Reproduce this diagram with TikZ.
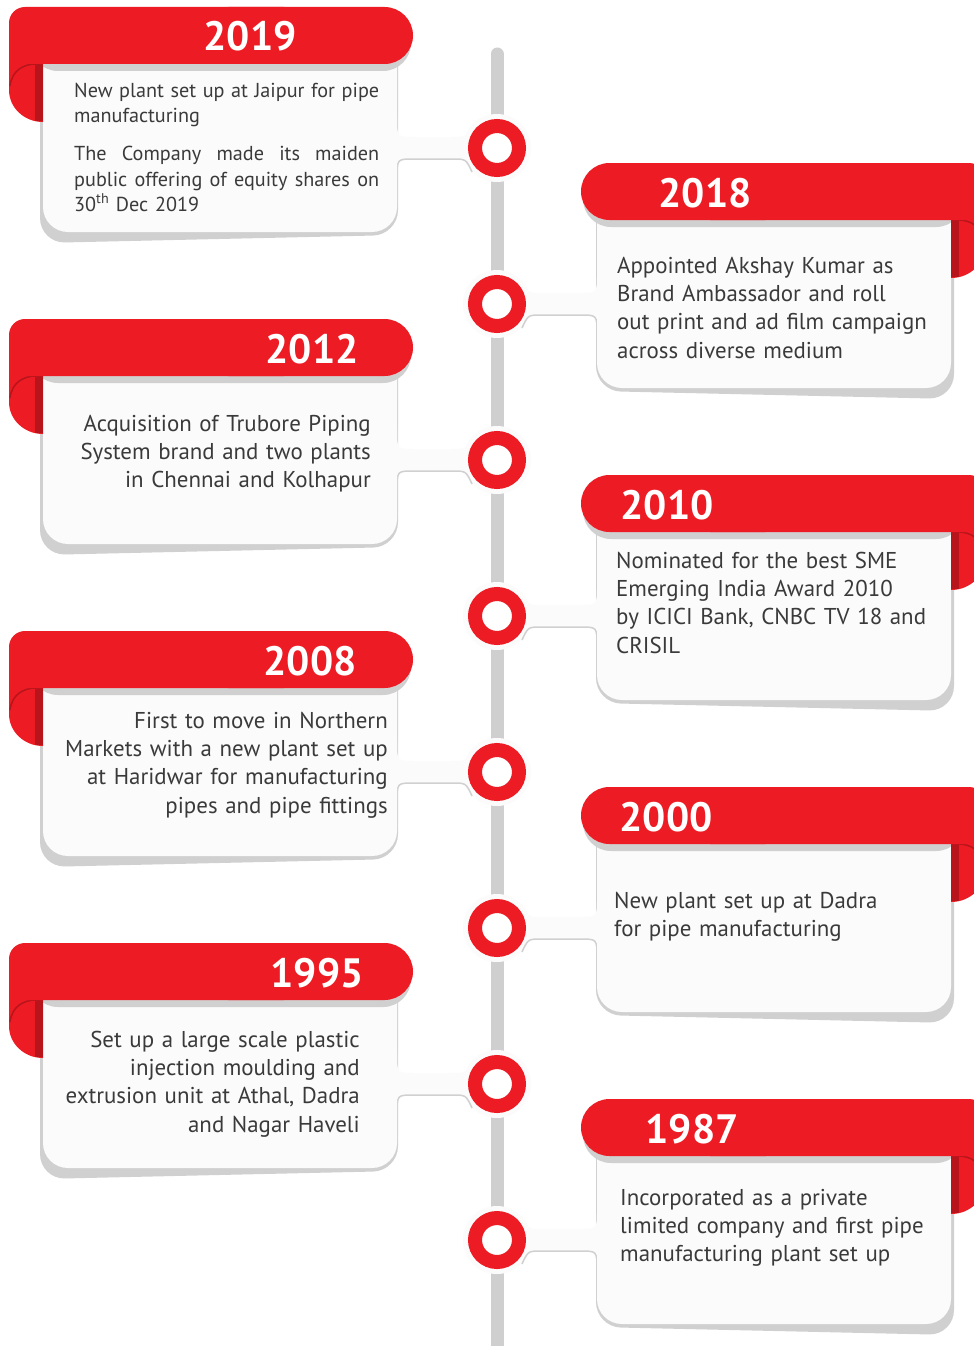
\documentclass[tikz,border=0pt]{standalone}
\usepackage{fontspec}
\setmainfont{PT Sans}
\usetikzlibrary{positioning}
\definecolor{brandred}{HTML}{ED1C24}
\definecolor{folddark}{HTML}{B8141B}
\definecolor{railgray}{HTML}{CFCFCF}
\definecolor{shadegray}{HTML}{D0D0D0}
\definecolor{cardfill}{HTML}{FBFBFB}
\definecolor{bodytext}{HTML}{3A3A3A}

% one card, drawn for the left side of the rail (ring at y=148)
\newcommand{\cardshape}{%
  % shadow under the card
  \fill[shadegray,rounded corners=25pt] (40,30) -- (40,243) -- (398,235) -- (398,30) -- cycle;
  % halo and link band towards the ring
  \fill[cardfill] (497,148) circle[radius=34];
  \fill[cardfill] (397,118) .. controls (397,137) .. (414,137) -- (452,137)
    .. controls (466,137) .. (472,124) -- (480,148) -- (472,172)
    .. controls (466,159) .. (452,159) -- (414,159) .. controls (397,159) .. (397,178) -- cycle;
  \draw[shadegray,line width=1.5pt] (397,178) .. controls (397,159) .. (414,159) -- (452,159)
    .. controls (466,159) .. (472,172);
  % card body
  \fill[cardfill,rounded corners=25pt] (43,30) rectangle (397,232);
  % banner shadow
  \fill[shadegray,rounded corners=28pt] (30,14) rectangle (411,71);
  % curl
  \begin{scope}
    \clip (0,0) rectangle (43,130);
    \fill[brandred] (9,40) rectangle (43,90);
    \fill[brandred] (43,90) ellipse[x radius=34,y radius=32];
  \end{scope}
  \fill[folddark] (35,64) rectangle (43,121);
  \draw[folddark,line width=1.5pt] (10,86) .. controls (12,70) and (24,64) .. (36,64);
  % banner
  \fill[brandred,rounded corners=16pt] (9,7) rectangle (300,64);
  \fill[brandred,rounded corners=28.5pt] (200,7) rectangle (413,64);
}
% a line spread over the full width
\newcommand{\fullline}[1]{\makebox[305pt][l]{#1}}

\begin{document}
\begin{tikzpicture}[x=1pt,y=-1pt]
\tikzstyle{ring}=[circle,draw=brandred,line width=14pt,fill=white,minimum size=44pt,inner sep=0pt]
\tikzstyle{year}=[font=\fontsize{41}{41}\selectfont\bfseries,text=white,anchor=base,inner sep=0pt]
\tikzstyle{note}=[font=\fontsize{22.9}{28.4}\selectfont,text=bodytext,text width=340pt,inner sep=0pt]
\tikzstyle{noteleft}=[note,align=left,anchor=base west]
\tikzstyle{noteright}=[note,align=right,anchor=base east]

  \useasboundingbox (0,0) rectangle (974,1346);
  \clip (0,0) rectangle (974,1346);
  \fill[white] (0,0) rectangle (974,1346);

  %--- rail ---
  \draw[railgray,line width=13pt,line cap=round] (497,54) -- (497,1360);

  %--- cards ---
  \foreach \oy in {0,312,624,936}
    {\begin{scope}[shift={(0,\oy)}] \cardshape \end{scope}}
  \foreach \oy in {156,468,780,1092}
    {\begin{scope}[shift={(994,\oy)},xscale=-1] \cardshape \end{scope}}

  %--- rings ---
  \foreach \yr/\cy in {2019/148,2018/304,2012/460,2010/616,2008/772,2000/928,1995/1084,1987/1240}
    \node[ring] (r\yr) at (497,\cy) {};

  %--- years ---
  \node[year] (y2019) at (250,51) {2019};
  \node[year] (y2018) at (705,207) {2018};
  \node[year] (y2012) at (312,363) {2012};
  \node[year] (y2010) at (667,519) {2010};
  \node[year] (y2008) at (310,675) {2008};
  \node[year] (y2000) at (666,831) {2000};
  \node[year] (y1995) at (317,987) {1995};
  \node[year] (y1987) at (692,1143) {1987};

  %--- texts ---
  \node[noteleft,text width=305pt,font=\fontsize{20.2}{25.5}\selectfont] (t2019) at (74,97)
    {\fullline{New\hfill plant\hfill set\hfill up\hfill at\hfill Jaipur\hfill for\hfill pipe}\\ manufacturing\\[12.5pt]
     \fullline{The\hfill Company\hfill made\hfill its\hfill maiden}\\
     \fullline{public\hfill offering\hfill of\hfill equity\hfill shares\hfill on}\\
     30\textsuperscript{th} Dec 2019};
  \node[noteleft] (t2018) at (617,273)
    {Appointed Akshay Kumar as\\ Brand Ambassador and roll\\ out print and ad film campaign\\ across diverse medium};
  \node[noteright] (t2012) at (371,431)
    {Acquisition of Trubore Piping\\ System brand and two plants\\ in Chennai and Kolhapur};
  \node[noteleft] (t2010) at (616,568)
    {Nominated for the best SME\\ Emerging India Award 2010\\ by ICICI Bank, CNBC TV 18 and\\ CRISIL};
  \node[noteright] (t2008) at (388,728)
    {First to move in Northern\\ Markets with a new plant set up\\ at Haridwar for manufacturing\\ pipes and pipe fittings};
  \node[noteleft] (t2000) at (614,908)
    {New plant set up at Dadra\\ for pipe manufacturing};
  \node[noteright] (t1995) at (360,1047)
    {Set up a large scale plastic\\ injection moulding and\\ extrusion unit at Athal, Dadra\\ and Nagar Haveli};
  \node[noteleft] (t1987) at (620,1205)
    {Incorporated as a private\\ limited company and first pipe\\ manufacturing plant set up};
\end{tikzpicture}
\end{document}
